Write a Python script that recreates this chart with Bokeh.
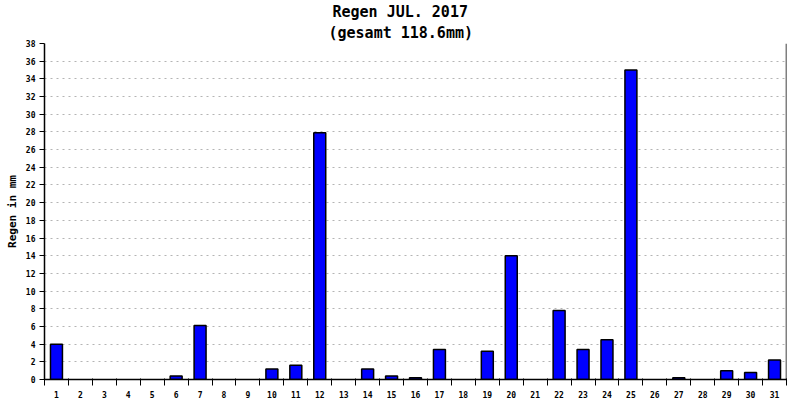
from bokeh.plotting import figure
from bokeh.models import FixedTicker, Range1d, Title, Span
from bokeh.embed import file_html
from bokeh.resources import INLINE

days = list(range(1, 32))
rain = [4.0, 0, 0, 0, 0, 0.4, 6.1, 0, 0, 1.2, 1.6, 27.9, 0, 1.2, 0.4,
        0.2, 3.4, 0, 3.2, 14.0, 0, 7.8, 3.4, 4.5, 35.0, 0, 0.2, 0, 1.0, 0.8, 2.2]
y_ticks = list(range(0, 39, 2))
title_line1 = "Regen JUL. 2017"
title_line2 = "(gesamt 118.6mm)"
y_label = "Regen in mm"

FONT = "DejaVu Sans Mono"

p = figure(width=800, height=400, output_backend="svg", toolbar_location=None,
           x_range=Range1d(0.5, 31.5), y_range=Range1d(0, 38),
           min_border_left=44, min_border_right=14, min_border_top=0, min_border_bottom=0,
           title=None)

wet_days = [d for d, r in zip(days, rain) if r > 0]
wet_rain = [r for r in rain if r > 0]
p.vbar(x=wet_days, top=wet_rain, width=0.5, fill_color="#0000ff", line_color="black", line_width=1.5)

t2 = Title(text=title_line2, align="left", offset=284, text_font=FONT, text_font_size="15px",
           text_font_style="bold", standoff=3, text_color="black")
t1 = Title(text=title_line1, align="left", offset=288, text_font=FONT, text_font_size="15px",
           text_font_style="bold", standoff=0, text_color="black")
p.add_layout(t2, "above")
p.add_layout(t1, "above")

xa = p.xaxis[0]
xa.axis_label = None
xa.ticker = FixedTicker(ticks=days, minor_ticks=[d + 0.5 for d in [0] + days])
xa.major_tick_line_color = None
xa.major_tick_out = 0
xa.major_tick_in = 0
xa.minor_tick_line_color = "black"
xa.minor_tick_out = 6
xa.minor_tick_in = 1
xa.axis_line_color = "black"
xa.axis_line_width = 1.5
xa.major_label_text_font = FONT
xa.major_label_text_font_size = "8px"
xa.major_label_text_font_style = "bold"
xa.major_label_text_color = "black"
xa.major_label_standoff = 5

ya = p.yaxis[0]
ya.ticker = FixedTicker(ticks=y_ticks)
ya.minor_tick_line_color = None
ya.major_tick_out = 5
ya.major_tick_in = 0
ya.major_tick_line_color = "black"
ya.axis_line_color = "black"
ya.axis_line_width = 1.5
ya.major_label_text_font = FONT
ya.major_label_text_font_size = "8px"
ya.major_label_text_font_style = "bold"
ya.major_label_text_color = "black"
ya.major_label_standoff = 4
ya.axis_label = y_label
ya.axis_label_text_font = FONT
ya.axis_label_text_font_size = "11px"
ya.axis_label_text_font_style = "bold"
ya.axis_label_text_color = "black"
ya.axis_label_standoff = 4

# right border line
p.add_layout(Span(location=31.5, dimension="height", line_color="black", line_width=1.5))

p.xgrid.grid_line_color = None
p.ygrid.grid_line_color = "#b4b4b4"
p.ygrid.grid_line_dash = "2 4"
p.outline_line_color = None
p.background_fill_color = "white"
p.border_fill_color = "white"

open("out.html", "w").write(file_html(p, INLINE))
